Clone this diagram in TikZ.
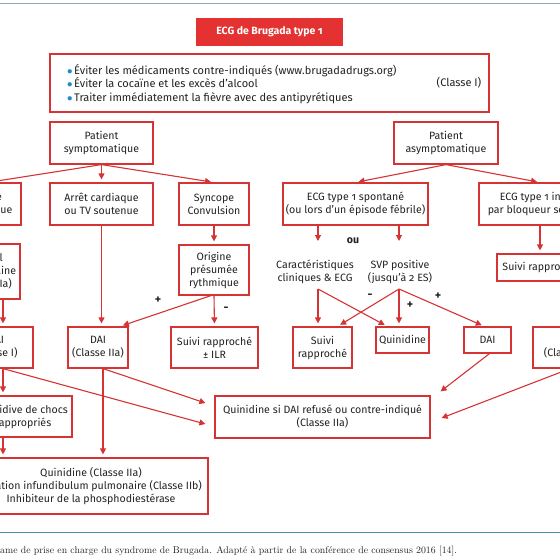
\documentclass[tikz,border=0pt]{standalone}
\usepackage{fontspec}
\setsansfont{Fira Sans}[Numbers=OldStyle]
\usetikzlibrary{arrows.meta,calc}
\definecolor{brred}{RGB}{214,52,52}
\definecolor{titred}{RGB}{228,50,50}
\definecolor{bulblue}{RGB}{30,140,205}
\definecolor{txt}{RGB}{35,35,35}
\definecolor{toprule}{RGB}{140,165,185}
\definecolor{botrule}{RGB}{70,150,170}
\newcommand{\bul}{{\color{bulblue}$\bullet$}\hspace{1.5pt}}
\begin{document}
\begin{tikzpicture}[x=1pt,y=-1pt,
  box/.style={draw=brred, line width=1.2pt, inner sep=0pt, align=center,
    font=\sffamily\fontsize{10.6}{13}\selectfont, text=txt},
  lbl/.style={inner sep=0pt, align=center, font=\sffamily\fontsize{10.6}{13}\selectfont, text=txt},
  sgn/.style={inner sep=0pt, font=\sffamily\bfseries\fontsize{12}{12}\selectfont, text=txt},
  arr/.style={draw=brred, line width=1.1pt, -{Triangle[length=6pt,width=6pt]}, shorten >=3pt},
  arrz/.style={arr, shorten >=0pt}]
\useasboundingbox (0,0) rectangle (560,560);
\clip (0,0) rectangle (560,560);
\fill[white] (0,0) rectangle (560,560);
\draw[toprule, line width=1pt] (0,3) -- (560,3);
\draw[botrule, line width=1pt] (0,532) -- (560,532);

% title and advice
\node[box, fill=titred, draw=titred, text=white, font=\sffamily\bfseries\fontsize{10.5}{12}\selectfont,
  minimum width=145pt, minimum height=26pt] (title) at (269.5,32) {ECG de Brugada type 1};
\node[box, minimum width=439pt, minimum height=58pt] (adv) at (269.5,83) {};
\node[lbl, align=left, anchor=west, font=\sffamily\fontsize{11}{13.5}\selectfont] (advtxt) at (67,84)
  {\bul Éviter les médicaments contre-indiqués (www.brugadadrugs.org)\\
   \bul Éviter la cocaïne et les excès d’alcool\\
   \bul Traiter immédiatement la fièvre avec des antipyrétiques};
\node[lbl, font=\sffamily\fontsize{11}{13.5}\selectfont] (advcl) at (459,83) {(Classe I)};

% patients
\node[box, minimum width=103pt, minimum height=42pt] (psym) at (101.5,143) {Patient\\symptomatique};
\node[box, minimum width=104pt, minimum height=42pt] (pasym) at (446,143) {Patient\\asymptomatique};

% row 2
\node[box, minimum width=66pt, minimum height=42pt] (orage) at (-12,204) {Orage\\électrique};
\node[box, minimum width=103pt, minimum height=42pt] (arret) at (101.5,204) {Arrêt cardiaque\\ou TV soutenue};
\node[box, minimum width=70pt, minimum height=42pt] (syncope) at (214,204) {Syncope\\Convulsion};
\node[box, minimum width=145pt, minimum height=42pt] (ecgspont) at (355.5,204) {ECG type 1 spontané\\(ou lors d’un épisode fébrile)};
\node[box, minimum width=122pt, minimum height=42pt] (ecgind) at (540,204) {ECG type 1 induit\\par bloqueur sodique};

% row 3
\node[box, minimum width=68pt, minimum height=55pt] (isup) at (-14,271.5) {Isuprel\\Isoprénaline\\(Classe IIa)};
\node[box, minimum width=70pt, minimum height=50pt] (origine) at (214,270) {Origine\\présumée\\rythmique};
\node[lbl] (ou) at (353,241) {\bfseries ou};
\node[lbl] (caract) at (315,271.5) {Caractéristiques\\cliniques \& ECG};
\node[lbl] (svp) at (400,271.5) {SVP positive\\(jusqu’à 2 ES)};
\node[box, minimum width=86pt, minimum height=27pt] (suiviR) at (540,267.5) {Suivi rapproché};

% row 4
\node[box, minimum width=74pt, minimum height=41pt] (daiI) at (-4,347.5) {DAI\\(Classe I)};
\node[box, minimum width=60pt, minimum height=41pt] (daiIIa) at (98,347.5) {DAI\\(Classe IIa)};
\node[box, minimum width=87pt, minimum height=41pt] (suiviILR) at (214.5,347.5) {Suivi rapproché\\± ILR};
\node[box, minimum width=59pt, minimum height=41pt] (suiviM) at (322.5,347.5) {Suivi\\rapproché};
\node[box, minimum width=53pt, minimum height=26pt] (quin) at (402.5,340) {Quinidine};
\node[box, minimum width=47pt, minimum height=26pt] (dai) at (487.5,340) {DAI};
\node[box, minimum width=74pt, minimum height=41pt] (daiIIb) at (570,347.5) {DAI\\(Classe IIb)};

% row 5-6
\node[box, minimum width=94pt, minimum height=41pt] (recid) at (25,416.5) {Récidive de chocs\\appropriés};
\node[box, minimum width=215pt, minimum height=42pt] (quinsi) at (322.5,417) {Quinidine si DAI refusé ou contre-indiqué\\(Classe IIa)};
\node[box, minimum width=234pt, minimum height=56pt] (bot) at (91,486)
  {Quinidine (Classe IIa)\\Ablation infundibulum pulmonaire (Classe IIb)\\Inhibiteur de la phosphodiestérase};

% caption
\node[anchor=base west, inner sep=0pt, font=\fontsize{9.8}{11}\selectfont, text=txt] (cap) at (0,553)
  {ame de prise en charge du syndrome de Brugada. Adapté à partir de la conférence de consensus 2016 [14].};

% helper coordinates
\coordinate (lx) at (3,0);
\coordinate (cb) at (318,289);
\coordinate (sb) at (399,289);
\coordinate (dIIa) at ($(daiIIa.south)+(5,0)$);
\coordinate (ou1) at (318,241);
\coordinate (ou2) at (399,241);

% connectors
\draw[arr] (psym.south) -- (orage.north);
\draw[arr] (psym.south) -- (arret.north);
\draw[arr] (psym.south) -- (syncope.north);
\draw[arr] (pasym.south) -- (ecgspont.north);
\draw[arr] (pasym.south) -- (ecgind.north);
\draw[arr] (syncope.south) -- (origine.north);
\draw[arr] (arret.south) -- (arret.south |- daiIIa.north);
\draw[arr] (origine.south) -- (suiviILR.north);
\draw[arr] ($(origine.south)+(-3,0)$) -- ($(daiIIa.north)+(22,0)$);
\node[sgn] (p1) at (158,300) {+};
\node[sgn] (m1) at (226,309) {-};
\draw[arr] (isup.south -| lx) -- (daiI.north -| lx);
\draw[arr] (daiI.south -| lx) -- (recid.north -| lx);
\draw[arr] (recid.south -| lx) -- (bot.north -| lx);
\draw[arrz] (daiI.south -| lx) -- ($(quinsi.west)+(-9,7)$);
\draw[arrz] (dIIa) -- ($(quinsi.west)+(-9,-14)$);
\draw[arr] (dIIa) -- (dIIa |- bot.north);
\draw[arrz] (ecgspont.south -| ou1) -- (ou1);
\draw[arrz] (ecgspont.south -| ou2) -- (ou2);
\draw[arr] (cb) -- (cb |- suiviM.north);
\draw[arr] (cb) -- ($(quin.north west)+(12,0)$);
\draw[arr] (sb) -- ($(suiviM.north east)+(-15,0)$);
\draw[arr] (sb) -- (sb |- quin.north);
\draw[arr] (sb) -- ($(dai.north)+(-3,0)$);
\node[sgn] (m2) at (370,296) {-};
\node[sgn] (p2) at (410,305) {+};
\node[sgn] (p3) at (438,296) {+};
\draw[arr] (ecgind.south) -- (suiviR.north);
\draw[arrz] ($(dai.south)+(2,0)$) -- ($(quinsi.north east)+(10,-4)$);
\draw[arrz] (daiIIb.south) -- ($(quinsi.east)+(11,1)$);
\end{tikzpicture}
\end{document}
